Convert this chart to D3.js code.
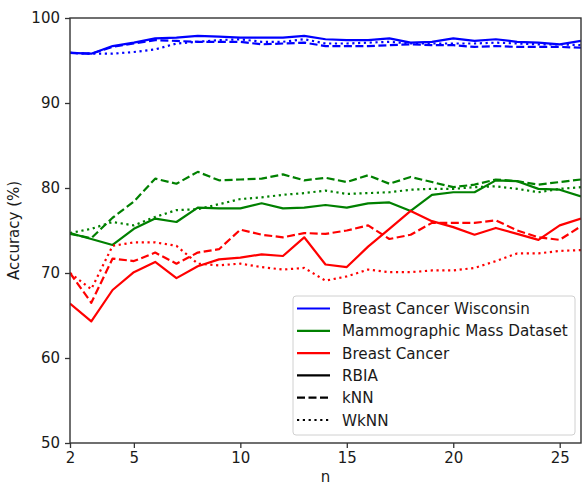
<!DOCTYPE html>
<html>
<head>
<meta charset="utf-8">
<script src="https://cdn.jsdelivr.net/npm/d3@7"></script>
<style>
  html, body { margin: 0; padding: 0; background: #fff; }
  svg { display: block; font-family: "DejaVu Sans", sans-serif; }
</style>
</head>
<body>
<div id="vis"></div>
<script>
// n = number of neighbours
const nValues = d3.range(2, 27);

// Breast Cancer Wisconsin
const bcwRBIA = [95.9, 95.8, 96.7, 97.1, 97.6, 97.7, 97.9, 97.8, 97.7, 97.7, 97.7, 97.9, 97.5, 97.4, 97.4, 97.6, 97.1, 97.2, 97.6, 97.3, 97.5, 97.2, 97.1, 96.9, 97.3];
const bcwKNN = [95.9, 95.8, 96.6, 97.0, 97.4, 97.3, 97.2, 97.2, 97.2, 96.9, 97.0, 97.1, 96.7, 96.7, 96.7, 96.8, 96.9, 96.8, 96.8, 96.6, 96.7, 96.6, 96.6, 96.6, 96.5];
const bcwWKNN = [95.9, 95.8, 95.8, 96.0, 96.3, 97.0, 97.2, 97.4, 97.5, 97.2, 97.2, 97.5, 97.0, 97.0, 97.1, 97.2, 97.0, 97.0, 97.0, 97.0, 97.1, 97.0, 96.9, 96.9, 96.8];

// Mammographic Mass Dataset
const mmRBIA = [74.7, 74.0, 73.3, 75.2, 76.4, 76.0, 77.7, 77.6, 77.6, 78.2, 77.6, 77.7, 78.0, 77.7, 78.2, 78.3, 77.3, 79.2, 79.5, 79.5, 80.9, 80.8, 79.9, 79.8, 79.0];
const mmKNN = [74.6, 74.1, 76.5, 78.4, 81.1, 80.5, 81.9, 80.9, 81.0, 81.1, 81.6, 80.9, 81.2, 80.7, 81.5, 80.5, 81.3, 80.7, 80.1, 80.4, 81.0, 80.8, 80.4, 80.7, 81.0];
const mmWKNN = [74.7, 75.2, 76.0, 75.6, 76.6, 77.4, 77.5, 78.1, 78.7, 78.9, 79.2, 79.4, 79.7, 79.3, 79.4, 79.5, 79.8, 79.9, 79.9, 80.1, 80.2, 79.9, 79.5, 79.9, 80.1];

// Breast Cancer
const bcRBIA = [66.4, 64.3, 68.0, 70.1, 71.3, 69.4, 70.8, 71.6, 71.8, 72.2, 72.0, 74.2, 71.0, 70.7, 73.1, 75.2, 77.3, 76.1, 75.4, 74.5, 75.3, 74.6, 73.9, 75.6, 76.4];
const bcKNN = [70.0, 66.5, 71.7, 71.4, 72.4, 71.1, 72.4, 72.8, 75.1, 74.5, 74.2, 74.7, 74.6, 75.0, 75.6, 74.0, 74.5, 75.9, 75.9, 75.9, 76.2, 75.0, 74.2, 73.9, 75.5];
const bcWKNN = [70.0, 68.1, 73.2, 73.6, 73.6, 73.2, 71.1, 70.9, 71.1, 70.7, 70.4, 70.6, 69.1, 69.6, 70.4, 70.1, 70.1, 70.3, 70.3, 70.6, 71.4, 72.3, 72.3, 72.6, 72.7];

const xTicks = [2, 5, 10, 15, 20, 25];
const yTicks = [50, 60, 70, 80, 90, 100];

const datasets = [
  { name: "Breast Cancer Wisconsin", color: "#0000ff", rbia: bcwRBIA, knn: bcwKNN, wknn: bcwWKNN },
  { name: "Mammographic Mass Dataset", color: "#008000", rbia: mmRBIA, knn: mmKNN, wknn: mmWKNN },
  { name: "Breast Cancer", color: "#ff0000", rbia: bcRBIA, knn: bcKNN, wknn: bcWKNN },
];
const methods = [
  { key: "rbia", name: "RBIA", dash: null },
  { key: "knn", name: "kNN", dash: "8,3.5" },
  { key: "wknn", name: "WkNN", dash: "2.2,3.6" },
];

const width = 582, height = 486;
const margin = { top: 18, right: 1, bottom: 43, left: 70 };

const svg = d3.select("#vis").append("svg")
  .attr("width", width)
  .attr("height", height);

const x = d3.scaleLinear()
  .domain([2, 26])
  .range([margin.left, width - margin.right]);
const y = d3.scaleLinear()
  .domain([50, 100])
  .range([height - margin.bottom, margin.top]);

const line = d3.line()
  .x((d) => x(d[0]))
  .y((d) => y(d[1]));

// data lines (clipped to plot area like matplotlib)
svg.append("clipPath").attr("id", "clip")
  .append("rect")
  .attr("x", x(2)).attr("y", y(100))
  .attr("width", x(26) - x(2)).attr("height", y(50) - y(100));

const plot = svg.append("g").attr("clip-path", "url(#clip)");
datasets.forEach((ds) => {
  methods.forEach((m) => {
    plot.append("path")
      .datum(nValues.map((n, i) => [n, ds[m.key][i]]))
      .attr("fill", "none")
      .attr("stroke", ds.color)
      .attr("stroke-width", 2.2)
      .attr("stroke-linejoin", "round")
      .attr("stroke-dasharray", m.dash)
      .attr("d", line);
  });
});

// axes
const xAxis = svg.append("g")
  .attr("transform", `translate(0,${y(50)})`)
  .call(d3.axisBottom(x).tickValues(xTicks).tickSize(5).tickPadding(4));
const yAxis = svg.append("g")
  .attr("transform", `translate(${x(2)},0)`)
  .call(d3.axisLeft(y).tickValues(yTicks).tickSize(5).tickPadding(5));

[xAxis, yAxis].forEach((g) => {
  g.select(".domain").remove();
  g.selectAll("line").attr("stroke", "#333").attr("stroke-width", 1.3);
  g.selectAll("text")
    .attr("fill", "#1a1a1a")
    .style("font-size", "15px")
    .style("font-family", "DejaVu Sans");
});

// spines
svg.append("rect")
  .attr("x", x(2)).attr("y", y(100))
  .attr("width", x(26) - x(2)).attr("height", y(50) - y(100))
  .attr("fill", "none")
  .attr("stroke", "#333")
  .attr("stroke-width", 1.4);

// axis labels
svg.append("text")
  .attr("x", (x(2) + x(26)) / 2)
  .attr("y", 482)
  .attr("text-anchor", "middle")
  .attr("fill", "#1a1a1a")
  .style("font-size", "15px")
  .text("n");

svg.append("text")
  .attr("transform", `translate(19,${(y(50) + y(100)) / 2}) rotate(-90)`)
  .attr("text-anchor", "middle")
  .attr("fill", "#1a1a1a")
  .style("font-size", "15px")
  .text("Accuracy (%)");

// legend
const legend = svg.append("g").attr("transform", "translate(293,296)");
legend.append("rect")
  .attr("width", 282).attr("height", 139)
  .attr("rx", 3)
  .attr("fill", "#fff")
  .attr("fill-opacity", 0.85)
  .attr("stroke", "#d0d0d0");

const legendItems = [
  ...datasets.map((d) => ({ label: d.name, color: d.color, dash: null })),
  ...methods.map((m) => ({ label: m.name, color: "#000", dash: m.dash })),
];
legendItems.forEach((item, i) => {
  const cy = 12.5 + i * 22.3;
  legend.append("line")
    .attr("x1", 4).attr("x2", 37)
    .attr("y1", cy).attr("y2", cy)
    .attr("stroke", item.color)
    .attr("stroke-width", 2.2)
    .attr("stroke-dasharray", item.dash);
  legend.append("text")
    .attr("x", 49).attr("y", cy + 5.5)
    .attr("fill", "#1a1a1a")
    .style("font-size", "15.2px")
    .text(item.label);
});
</script>
</body>
</html>
